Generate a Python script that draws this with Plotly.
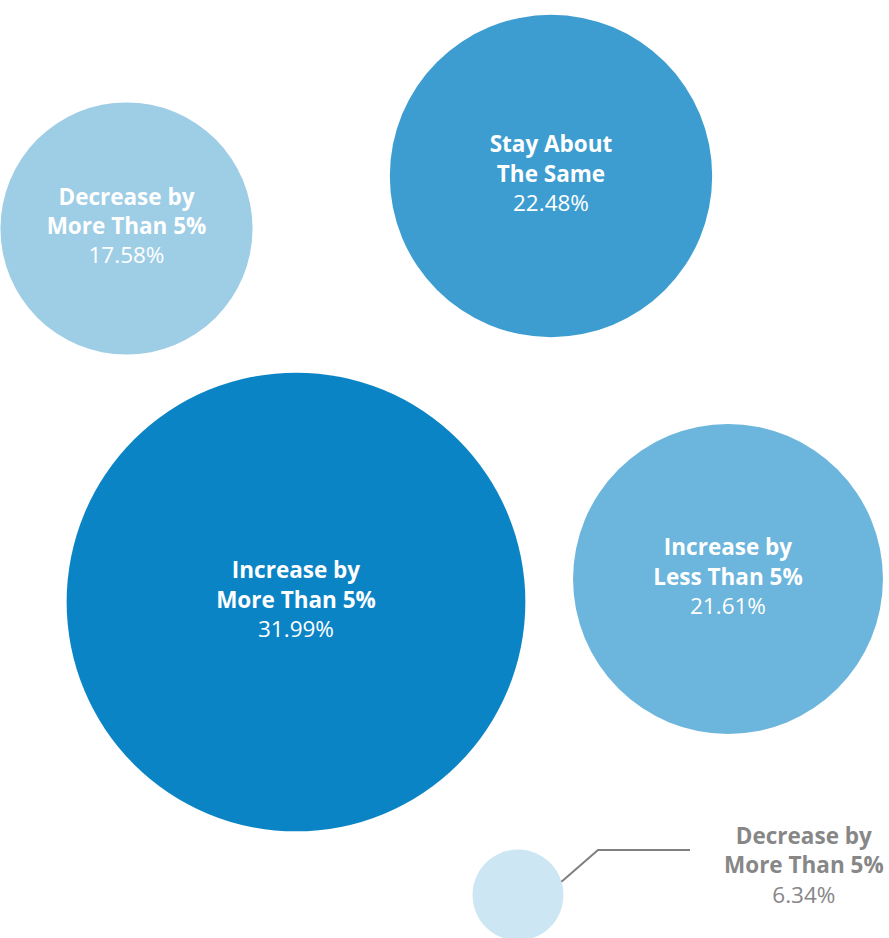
import math
import plotly.graph_objects as go

# ---- data ----
labels = ["Increase by<br>More Than 5%", "Stay About<br>The Same", "Increase by<br>Less Than 5%",
          "Decrease by<br>More Than 5%", "Decrease by<br>More Than 5%"]
values = [31.99, 22.48, 21.61, 17.58, 6.34]

# ---- layout (bubble placement in a pixel-like frame) ----
W, H = 889, 938
cx = [296, 551, 728, 126.5, 518]
cy = [602, 176, 579, 228.5, 895]
colors = ["#0b84c6", "#3d9dd0", "#6cb5dc", "#9ecde6", "#cde6f3"]
px_per_unit = 7.17          # bubble radius in px per percentage point
inside = [True, True, True, True, False]

FONT = "Open Sans"
FSIZE = 22.5

fig = go.Figure()

texts = []
for lab, v, ins in zip(labels, values, inside):
    texts.append(f"<b>{lab}</b><br>{v:.2f}%" if ins else "")

fig.add_trace(go.Scatter(
    x=cx, y=cy, mode="markers+text",
    text=texts, textposition="middle center",
    textfont=dict(family=FONT, size=FSIZE, color="white"),
    marker=dict(size=values, sizemode="diameter", sizeref=1 / (2 * px_per_unit),
                color=colors, line=dict(width=0), opacity=1),
    hoverinfo="skip", showlegend=False, cliponaxis=False,
))

# leader line for the small bubble
i = 4
r = values[i] * px_per_unit
ang = math.radians(17)
sx, sy = cx[i] + r * math.cos(ang), cy[i] - r * math.sin(ang)
elbow = (598, 850)
end = (690, 850)
fig.add_trace(go.Scatter(
    x=[sx, elbow[0], end[0]], y=[sy, elbow[1], end[1]], mode="lines",
    line=dict(color="#7f7f7f", width=2), hoverinfo="skip", showlegend=False,
))
fig.add_annotation(
    x=804, y=865, xref="x", yref="y", showarrow=False,
    text=f"<b>{labels[i]}</b><br>{values[i]:.2f}%",
    font=dict(family=FONT, size=FSIZE, color="#878787"), align="center",
)

fig.update_layout(
    width=W, height=H, autosize=False,
    margin=dict(l=0, r=0, t=0, b=0),
    paper_bgcolor="white", plot_bgcolor="white",
    xaxis=dict(range=[0, W], visible=False, fixedrange=True),
    yaxis=dict(range=[H, 0], visible=False, fixedrange=True),
)

fig.write_html("out.html", config={"displayModeBar": False},
               post_script="document.body.style.margin='0';")
